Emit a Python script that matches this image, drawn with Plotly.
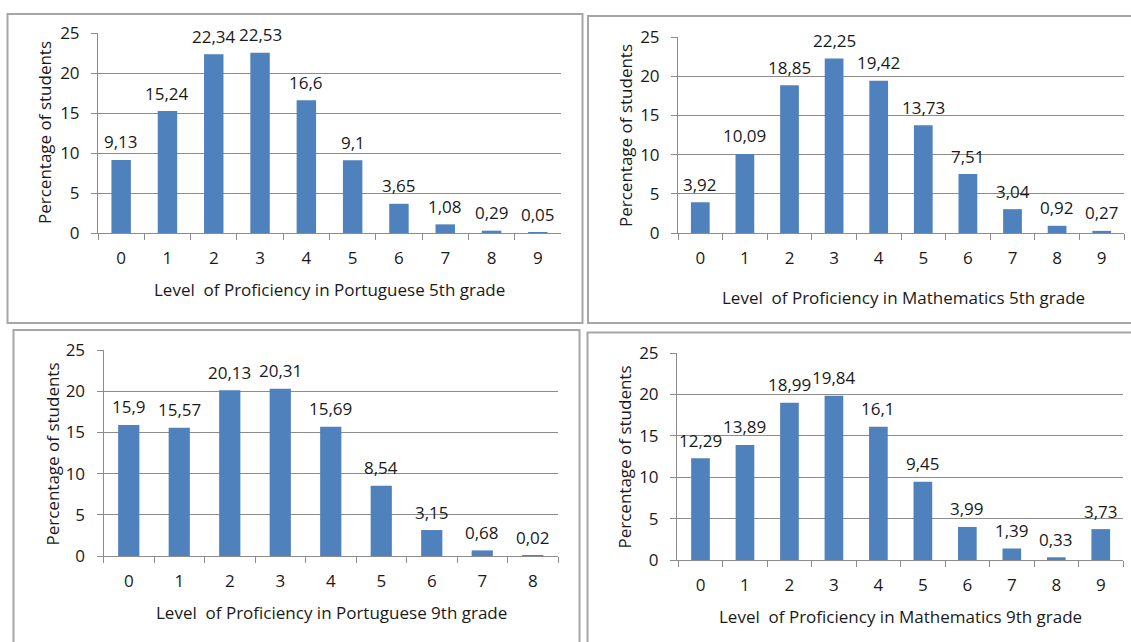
import plotly.graph_objects as go

# Percentage of students per proficiency level
levels_10 = ["0", "1", "2", "3", "4", "5", "6", "7", "8", "9"]
levels_9 = ["0", "1", "2", "3", "4", "5", "6", "7", "8"]

portuguese_5th = [9.13, 15.24, 22.34, 22.53, 16.6, 9.1, 3.65, 1.08, 0.29, 0.05]
mathematics_5th = [3.92, 10.09, 18.85, 22.25, 19.42, 13.73, 7.51, 3.04, 0.92, 0.27]
portuguese_9th = [15.9, 15.57, 20.13, 20.31, 15.69, 8.54, 3.15, 0.68, 0.02]
mathematics_9th = [12.29, 13.89, 18.99, 19.84, 16.1, 9.45, 3.99, 1.39, 0.33, 3.73]

x_titles = [
    "Level  of Proficiency in Portuguese 5th grade",
    "Level  of Proficiency in Mathematics 5th grade",
    "Level  of Proficiency in Portuguese 9th grade",
    "Level  of Proficiency in Mathematics 9th grade",
]
y_title = "Percentage of students"
y_ticks = [0, 5, 10, 15, 20, 25]

W, H = 1131, 642
BAR = "#4F81BD"
GRID = "#8C8C8C"
FRAME = "#A6A6A6"
TEXT = "#1A1A1A"
FONT = "Open Sans"


def fx(px):
    return px / W


def fy(py):
    return 1 - py / H


def fmt(v):
    return f"{v:g}".replace(".", ",")


# plot-area boxes (left, right, top, bottom) and frame boxes in pixels
panels = [
    dict(cats=levels_10, vals=portuguese_5th, plot=(98, 561, 33, 233),
         frame=(7.5, 582.5, 14, 323), xt=(329.5, 289), yt=(45, 133)),
    dict(cats=levels_10, vals=mathematics_5th, plot=(678, 1124, 37, 233),
         frame=(588, 1140, 16, 323), xt=(903, 298), yt=(625, 136)),
    dict(cats=levels_9, vals=portuguese_9th, plot=(103.5, 558, 350, 556),
         frame=(13.5, 579.5, 330, 660), xt=(331, 612), yt=(51.5, 454)),
    dict(cats=levels_10, vals=mathematics_9th, plot=(677, 1123, 353, 560),
         frame=(587.5, 1140, 332.5, 660), xt=(900, 616), yt=(623.5, 457)),
]

fig = go.Figure()
shapes = []
annotations = []
layout_axes = {}

for i, p in enumerate(panels, start=1):
    sfx = "" if i == 1 else str(i)
    xa, ya = f"x{sfx}", f"y{sfx}"
    fig.add_trace(go.Bar(
        x=p["cats"], y=p["vals"], xaxis=xa, yaxis=ya,
        marker=dict(color=BAR, line=dict(width=0)),
        showlegend=False, hoverinfo="x+y", cliponaxis=False,
    ))
    # value labels above each bar
    for c, v in zip(p["cats"], p["vals"]):
        annotations.append(dict(
            x=c, y=v, xref=xa, yref=ya, text=fmt(v), showarrow=False,
            yanchor="middle", xanchor="center", yshift=18,
            font=dict(family=FONT, size=17, color=TEXT),
        ))
    l, r, t, b = p["plot"]
    layout_axes[f"xaxis{sfx}"] = dict(
        domain=[fx(l), fx(r)], anchor=ya, type="category",
        categoryorder="array", categoryarray=p["cats"],
        showline=True, linecolor=GRID, linewidth=1,
        ticks="outside", tickson="boundaries", ticklen=6, tickcolor=GRID,
        showgrid=False, zeroline=False, ticklabelstandoff=10,
        automargin=False,
        tickfont=dict(family=FONT, size=17, color=TEXT),
        fixedrange=True,
    )
    layout_axes[f"yaxis{sfx}"] = dict(
        domain=[fy(b), fy(t)], anchor=xa, range=[0, 25],
        tickvals=y_ticks, showline=True, linecolor=GRID, linewidth=1,
        ticks="outside", ticklen=6, tickcolor=GRID,
        showgrid=True, gridcolor=GRID, gridwidth=1, zeroline=False,
        ticklabelstandoff=8, automargin=False,
        tickfont=dict(family=FONT, size=17, color=TEXT),
        fixedrange=True,
    )
    fl, fr, ft, fb = p["frame"]
    shapes.append(dict(
        type="rect", xref="paper", yref="paper",
        x0=fx(fl), x1=fx(fr), y0=fy(fb), y1=fy(ft),
        line=dict(color=FRAME, width=2), fillcolor="rgba(0,0,0,0)",
        layer="below",
    ))
    annotations.append(dict(
        x=fx(p["xt"][0]), y=fy(p["xt"][1]), xref="paper", yref="paper",
        text=x_titles[i - 1], showarrow=False,
        xanchor="center", yanchor="middle",
        font=dict(family=FONT, size=17, color=TEXT),
    ))
    annotations.append(dict(
        x=fx(p["yt"][0]), y=fy(p["yt"][1]), xref="paper", yref="paper",
        text=y_title, showarrow=False, textangle=-90,
        xanchor="center", yanchor="middle",
        font=dict(family=FONT, size=17, color=TEXT),
    ))

fig.update_layout(
    width=W, height=H,
    margin=dict(l=0, r=0, t=0, b=0, autoexpand=False),
    paper_bgcolor="white", plot_bgcolor="white",
    bargap=0.58, shapes=shapes, annotations=annotations,
    **layout_axes,
)

fig.write_html("out.html", config={"displayModeBar": False})
